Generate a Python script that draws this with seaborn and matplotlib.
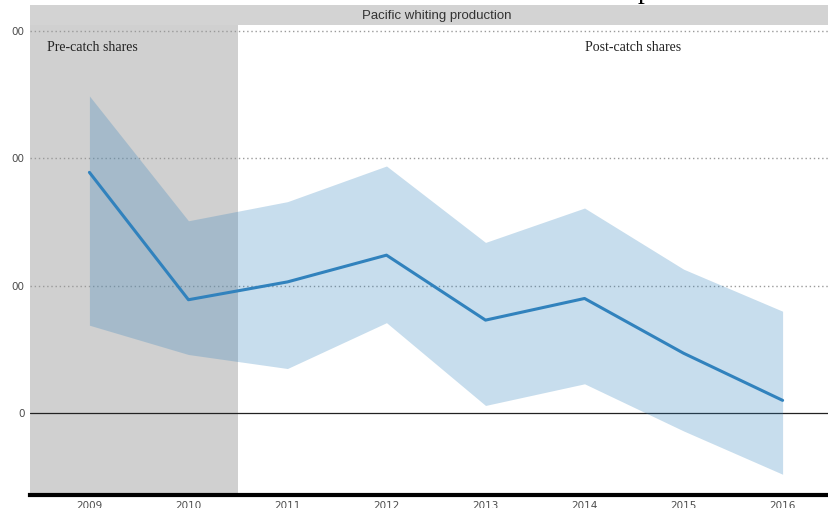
import matplotlib
matplotlib.use("Agg")
import matplotlib.pyplot as plt
import seaborn as sns
import pandas as pd
import numpy as np

years = [2009, 2010, 2011, 2012, 2013, 2014, 2015, 2016]
value = [189, 89, 103, 124, 73, 90, 47, 10]
upper = [249, 151, 166, 194, 134, 161, 113, 80]
lower = [69, 46, 35, 71, 6, 23, -14, -48]
ytick_vals = [0, 100, 200, 300]
ytick_labels = ["0", "00", "00", "00"]
panel_title = "Pacific whiting production"
pre_label = "Pre-catch shares"
post_label = "Post-catch shares"
split_year = 2010.5

df = pd.DataFrame({"year": years, "value": value, "upper": upper, "lower": lower})

sns.set_theme(style="white")
W, H = 829, 508
fig = plt.figure(figsize=(W / 100, H / 100), dpi=100)

ax_left, ax_right = 30, 844
ax_top, ax_bot = 25, 495
ax = fig.add_axes([ax_left / W, 1 - ax_bot / H, (ax_right - ax_left) / W, (ax_bot - ax_top) / H])

xmin, xmax = 2008.40, 2016.62
ymin, ymax = -64.3, 304.7

ax.axvspan(xmin, split_year, color="#d0d0d0", zorder=0, lw=0)
for v in ytick_vals[1:]:
    ax.axhline(v, color="#9a9a9a", lw=1.0, ls=(0, (1, 2)), zorder=1)
ax.axhline(0, color="#222222", lw=0.9, zorder=1)

ax.fill_between(df["year"], df["lower"], df["upper"], color="#3182bd", alpha=0.27, lw=0, zorder=2)
sns.lineplot(data=df, x="year", y="value", ax=ax, color="#3182bd", lw=2.2, zorder=3)

ax.set_xlim(xmin, xmax)
ax.set_ylim(ymin, ymax)
ax.set_xticks(years)
ax.set_xticklabels([str(y) for y in years])
ax.set_yticks(ytick_vals)
ax.set_yticklabels(ytick_labels)
ax.set_xlabel("")
ax.set_ylabel("")
ax.tick_params(axis="both", length=0, labelsize=7.5, labelcolor="#4d4d4d")
ax.tick_params(axis="x", pad=4)
ax.tick_params(axis="y", pad=4)
for lab in ax.get_xticklabels() + ax.get_yticklabels():
    lab.set_family("DejaVu Sans")
for s in ["top", "right", "left"]:
    ax.spines[s].set_visible(False)
ax.spines["bottom"].set_color("black")
ax.spines["bottom"].set_linewidth(3.0)
ax.set_facecolor("white")

ax.text(2009.03, 287, pre_label, family="Liberation Serif", fontsize=10, color="#222222",
        ha="center", va="center")
ax.text(2014.49, 287, post_label, family="Liberation Serif", fontsize=10, color="#222222",
        ha="center", va="center")

# facet strip
sax = fig.add_axes([ax_left / W, 1 - 25 / H, (ax_right - ax_left) / W, 20 / H])
sax.set_facecolor("#d3d3d3")
sax.set_xticks([]); sax.set_yticks([])
for s in sax.spines.values():
    s.set_visible(False)
sax.text(0.5, 0.45, panel_title, transform=sax.transAxes, ha="center", va="center",
         family="Liberation Sans", fontsize=9.5, color="#333333")

# cut-off title above
fig.text(638 / W, 1 + 2 / H, "p", family="Liberation Serif", fontsize=20, color="black",
         va="baseline", ha="left")

fig.savefig("out.png", dpi=100)
